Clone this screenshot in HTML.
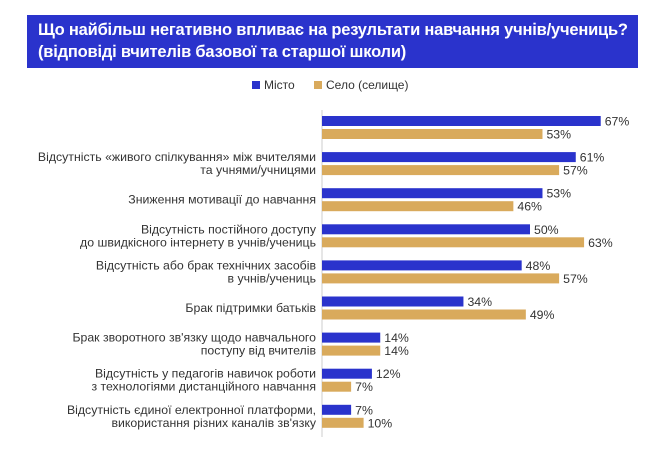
<!DOCTYPE html>
<html><head><meta charset="utf-8"><style>
body{margin:0;width:665px;height:456px;background:#fff;font-family:"Liberation Sans",sans-serif;overflow:hidden;position:relative}
#title{position:absolute;left:27px;top:15px;width:611px;height:53px;background:#2a33cc;color:#fff;font-weight:bold;font-size:16.5px;line-height:22px;padding:4px 0 0 11px;box-sizing:border-box;letter-spacing:-0.2px}
.lg{position:absolute;top:78px;font-size:12px;color:#333}
.sw{display:inline-block;width:8px;height:8px;margin-right:4px}
svg{position:absolute;left:0;top:0}
</style></head><body>
<div id="title">Що найбільш негативно впливає на результати навчання учнів/учениць?<br>(відповіді вчителів базової та старшої школи)</div>
<div class="lg" style="left:252px"><span class="sw" style="background:#2a33cc"></span>Місто</div>
<div class="lg" style="left:314px"><span class="sw" style="background:#d9aa5c"></span>Село (селище)</div>
<svg id="c" width="665" height="456"></svg>
<script>
const categories=[["",""],["Відсутність «живого спілкування» між вчителями","та учнями/учницями"],["Зниження мотивації до навчання"],["Відсутність постійного доступу","до швидкісного  інтернету в учнів/учениць"],["Відсутність або брак технічних засобів","в учнів/учениць"],["Брак підтримки батьків"],["Брак зворотного зв'язку щодо навчального","поступу від вчителів"],["Відсутність у педагогів навичок роботи","з технологіями дистанційного навчання"],["Відсутність єдиної електронної платформи,","використання різних каналів зв'язку"]];
const misto=[67,61,53,50,48,34,14,12,7];
const selo=[53,57,46,63,57,49,14,7,10];
const svg=document.getElementById('c');const NS='http://www.w3.org/2000/svg';
const x0=322,k=4.16,y0=116,step=36.1,bh=10;
const x=v=>x0+v*k;
function mk(t,a){const e=document.createElementNS(NS,t);for(const n in a)e.setAttribute(n,a[n]);svg.appendChild(e);return e;}
const ax=mk('line',{x1:x0,x2:x0,y1:110,y2:437,stroke:'#ddd','stroke-width':1.5});


categories.forEach((c,i)=>{
  const yb=y0+i*step;
  [[misto[i],'#2a33cc',yb,'misto'],[selo[i],'#d9aa5c',yb+13,'selo']].forEach(([v,col,yy,s])=>{
    const r=mk('rect',{x:x0,y:yy,width:x(v)-x0,height:bh,fill:col});
    
    
    const t=mk('text',{x:x(v)+4,y:yy+9.5,'font-size':12.3,fill:'#333'});t.textContent=v+'%';
    
    
  });
  const lines=c.filter(l=>l);const cy=yb+11.5;
  lines.forEach((l,j)=>{
    const t=mk('text',{x:316,y:cy+4+(j-(lines.length-1)/2)*13,'font-size':12.3,fill:'#333','text-anchor':'end'});t.textContent=l;
    
    
  });
});
</script>
</body></html>
